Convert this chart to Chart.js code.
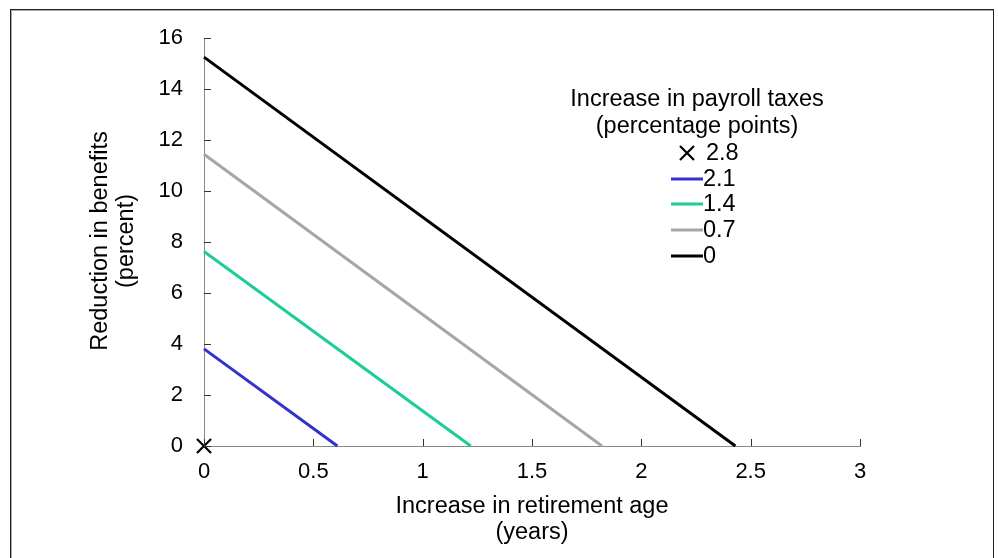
<!DOCTYPE html>
<html>
<head>
<meta charset="utf-8">
<script src="https://cdn.jsdelivr.net/npm/chart.js@4/dist/chart.umd.min.js"></script>
<style>
  html, body { margin: 0; padding: 0; background: #fff; }
  #wrap { position: relative; width: 998px; height: 558px; overflow: hidden; }
  #frame { position: absolute; left: 10px; top: 9px; width: 982px; height: 600px;
           border: 1px solid #222; box-shadow: inset 1px 1px 0 #aaa; pointer-events: none; }
  canvas { position: absolute; left: 0; top: 0; }
</style>
</head>
<body>
<div id="wrap">
  <canvas id="c" width="998" height="558"></canvas>
  <div id="frame"></div>
</div>
<script>
// ---- Data ----
const seriesLabels = ['2.8', '2.1', '1.4', '0.7', '0'];
const seriesColors = ['#000000', '#3333cc', '#1ccc9a', '#a6a6a6', '#000000'];
// benefit reduction at retirement-age increase 0 (percent)
const benefitCuts = [0, 3.81, 7.63, 11.44, 15.25];
// retirement-age increase at which benefit reduction reaches 0 (years)
const ageIncreases = [0, 0.61, 1.22, 1.82, 2.43];
const xTickValues = [0, 0.5, 1, 1.5, 2, 2.5, 3];
const yTickValues = [0, 2, 4, 6, 8, 10, 12, 14, 16];
const xTitle = ['Increase in retirement age', '(years)'];
const yTitle = ['Reduction in benefits', '(percent)'];
const legendTitle = ['Increase in payroll taxes', '(percentage points)'];

const FONT = '"Liberation Sans", Arial, Helvetica, sans-serif';

const datasets = seriesLabels.map((lab, i) => {
  if (i === 0) {
    return {
      label: lab,
      data: [{ x: 0, y: 0 }],
      showLine: false,
      pointStyle: 'crossRot',
      pointRadius: 10,
      pointBorderWidth: 2.2,
      borderColor: seriesColors[i],
      backgroundColor: seriesColors[i],
      clip: false
    };
  }
  return {
    label: lab,
    data: [{ x: 0, y: benefitCuts[i] }, { x: ageIncreases[i], y: 0 }],
    showLine: true,
    borderColor: seriesColors[i],
    backgroundColor: seriesColors[i],
    borderWidth: 3,
    pointRadius: 0,
    clip: false
  };
});

const decorPlugin = {
  id: 'decor',
  afterDraw(chart) {
    const ctx = chart.ctx;
    const xs = chart.scales.x, ys = chart.scales.y;
    const x0 = xs.getPixelForValue(0), y0 = ys.getPixelForValue(0);
    ctx.save();
    // inward tick marks
    ctx.strokeStyle = '#333';
    ctx.lineWidth = 1;
    ctx.beginPath();
    yTickValues.forEach(v => {
      const p = Math.round(ys.getPixelForValue(v)) + 0.5;
      ctx.moveTo(x0, p); ctx.lineTo(x0 + 7, p);
    });
    xTickValues.forEach(v => {
      const p = Math.round(xs.getPixelForValue(v)) + 0.5;
      ctx.moveTo(p, y0); ctx.lineTo(p, y0 - 7);
    });
    ctx.stroke();

    // axis titles
    ctx.fillStyle = '#000';
    ctx.font = '23.5px ' + FONT;
    ctx.textAlign = 'center';
    ctx.textBaseline = 'middle';
    const xc = (xs.left + xs.right) / 2;
    ctx.fillText(xTitle[0], xc, 507);
    ctx.fillText(xTitle[1], xc, 533);
    ctx.save();
    ctx.translate(101, 241);
    ctx.rotate(-Math.PI / 2);
    ctx.fillText(yTitle[0], 0, 0);
    ctx.fillText(yTitle[1], 0, 26);
    ctx.restore();

    // legend
    ctx.fillText(legendTitle[0], 697, 100);
    ctx.fillText(legendTitle[1], 697, 127);
    const rows = [153, 179, 204, 230, 256];
    ctx.textAlign = 'left';
    chart.data.datasets.forEach((ds, i) => {
      const y = rows[i];
      if (i === 0) {
        ctx.strokeStyle = ds.borderColor;
        ctx.lineWidth = 2.2;
        ctx.beginPath();
        ctx.moveTo(680, y - 7); ctx.lineTo(694, y + 7);
        ctx.moveTo(694, y - 7); ctx.lineTo(680, y + 7);
        ctx.stroke();
        ctx.fillStyle = '#000';
        ctx.fillText(ds.label, 706, y + 1);
      } else {
        ctx.strokeStyle = ds.borderColor;
        ctx.lineWidth = 3;
        ctx.beginPath();
        ctx.moveTo(671, y); ctx.lineTo(703, y);
        ctx.stroke();
        ctx.fillStyle = '#000';
        ctx.fillText(ds.label, 703, y + 1);
      }
    });
    ctx.restore();
  }
};

new Chart(document.getElementById('c'), {
  type: 'scatter',
  data: { datasets },
  options: {
    responsive: false,
    animation: false,
    devicePixelRatio: 1,
    layout: { padding: { left: 0, top: 38, right: 138, bottom: 0 } },
    plugins: { legend: { display: false }, tooltip: { enabled: false } },
    scales: {
      x: {
        type: 'linear', min: 0, max: 3,
        afterFit(s) { s.height = 112; },
        afterBuildTicks(s) { s.ticks = xTickValues.map(v => ({ value: v })); },
        grid: { display: true, drawOnChartArea: false, drawTicks: false },
        border: { display: true, color: '#888', width: 1 },
        ticks: { padding: 13, color: '#000', font: { family: FONT, size: 22 },
                 callback: v => String(v), maxRotation: 0 }
      },
      y: {
        type: 'linear', min: 0, max: 16,
        afterFit(s) { s.width = 204; },
        afterBuildTicks(s) { s.ticks = yTickValues.map(v => ({ value: v })); },
        grid: { display: true, drawOnChartArea: false, drawTicks: false },
        border: { display: true, color: '#888', width: 1 },
        ticks: { padding: 21, color: '#000', font: { family: FONT, size: 22 },
                 callback: v => String(v) }
      }
    }
  },
  plugins: [decorPlugin]
});
</script>
</body>
</html>
